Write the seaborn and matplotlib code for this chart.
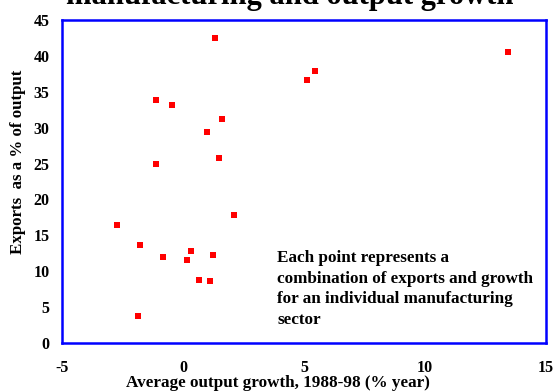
import matplotlib
matplotlib.use("Agg")
import matplotlib.pyplot as plt
import seaborn as sns
import pandas as pd

output_growth = [1.32, 13.45, 5.45, 5.11, -1.12, -0.45, 1.61, 1.01, 1.48, -1.12,
                 2.10, -2.71, -1.76, -0.83, 0.31, 0.15, 1.26, 0.68, 1.10, -1.88]
exports_pct = [42.5, 40.6, 37.9, 36.6, 33.8, 33.1, 31.2, 29.4, 25.8, 24.9,
               17.9, 16.5, 13.7, 12.0, 12.8, 11.6, 12.3, 8.8, 8.7, 3.8]
x_ticks = [-5, 0, 5, 10, 15]
y_ticks = [0, 5, 10, 15, 20, 25, 30, 35, 40, 45]

df = pd.DataFrame({"growth": output_growth, "exports": exports_pct})

sns.set_theme(style="white")
plt.rcParams['font.family'] = ['Liberation Serif', 'DejaVu Serif']
plt.rcParams['font.weight'] = 'bold'
plt.rcParams['text.color'] = 'black'
plt.rcParams['xtick.color'] = 'black'
plt.rcParams['ytick.color'] = 'black'

fig = plt.figure(figsize=(5.55, 3.92), dpi=100)
ax = fig.add_axes([62/555, 1 - 343/392, (546-62)/555, (343-20)/392])

sns.scatterplot(data=df, x="growth", y="exports", ax=ax, marker="s",
                color="#ff0000", s=20, linewidth=0, legend=False)

ax.set_xlim(-5, 15)
ax.set_ylim(0, 45)
ax.set_xticks(x_ticks)
ax.set_yticks(y_ticks)
ax.set_xticklabels([str(t) for t in x_ticks], fontsize=11.5, fontweight='bold', color='black')
ax.set_yticklabels([str(t) for t in y_ticks], fontsize=11.5, fontweight='bold', color='black')
ax.tick_params(axis='both', direction='out', length=4, width=1.5, color='#0000ff')
ax.tick_params(axis='y', pad=5)
ax.tick_params(axis='x', pad=8)
for sp in ax.spines.values():
    sp.set_color('#0000ff')
    sp.set_linewidth(1.8)
    sp.set_visible(True)

ax.set_xlabel("")
ax.set_ylabel("")
fig.text(278/555, 1 - 387/392, "Average output growth, 1988-98 (% year)",
         ha='center', va='baseline', fontsize=12.3, fontweight='bold', color='black')
fig.text(18/555, 1 - 162/392, "Exports  as a % of output", rotation=90,
         ha='center', va='center', fontsize=12.2, fontweight='bold', color='black')

fig.text(290/555, 1 - 4/392, "manufacturing and output growth",
         ha='center', va='baseline', fontsize=22, fontweight='bold', color='black')

ax.text(277/555, 1 - 250/392,
        "Each point represents a\ncombination of exports and growth\nfor an individual manufacturing\nsector",
        transform=fig.transFigure, ha='left', va='top', fontsize=12.3,
        fontweight='bold', linespacing=1.38, color='black')

fig.savefig("out.png", dpi=100)
